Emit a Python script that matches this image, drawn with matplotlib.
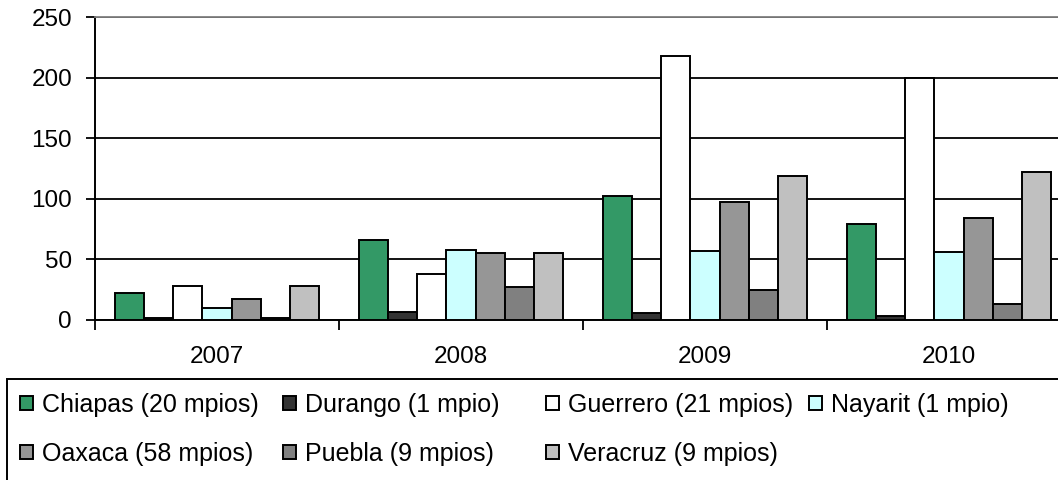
import numpy as np
import matplotlib
matplotlib.use("Agg")
import matplotlib.pyplot as plt
from matplotlib.patches import Patch, Rectangle

plt.rcParams['font.family'] = ['Liberation Sans', 'DejaVu Sans']

years = ['2007', '2008', '2009', '2010']
states = ['Chiapas (20 mpios)', 'Durango (1 mpio)', 'Guerrero (21 mpios)',
          'Nayarit (1 mpio)', 'Oaxaca (58 mpios)', 'Puebla (9 mpios)',
          'Veracruz (9 mpios)']
chiapas = [22, 66, 102, 79]
durango = [2, 7, 6, 3]
guerrero = [28, 38, 218, 200]
nayarit = [10, 58, 57, 56]
oaxaca = [17, 55, 97, 84]
puebla = [2, 27, 25, 13]
veracruz = [28, 55, 119, 122]
series = [chiapas, durango, guerrero, nayarit, oaxaca, puebla, veracruz]
colors = ['#339966', '#333333', '#ffffff', '#ccffff', '#969696', '#808080', '#c0c0c0']

fig = plt.figure(figsize=(10.58, 4.8), dpi=100)
ax = fig.add_axes([95 / 1058, 160 / 480, 976 / 1058, 303 / 480])

x = np.arange(len(years)) + 0.5
w = 0.119
for i, (vals, c) in enumerate(zip(series, colors)):
    ax.bar(x + (i - 3) * w, vals, w, color=c, edgecolor='black', linewidth=1.4,
           label=states[i], zorder=3)

ax.set_xlim(0, 4)
ax.set_ylim(0, 250)
ax.set_yticks([0, 50, 100, 150, 200, 250])
ax.yaxis.grid(True, color='black', linewidth=1.3, zorder=0)
ax.set_xticks([0, 1, 2, 3, 4])
ax.set_xticklabels([])
ax.set_xticks(x, minor=True)
ax.set_xticklabels(years, minor=True)
ax.tick_params(axis='x', which='minor', length=0, pad=19, labelsize=17.5)
ax.tick_params(axis='x', which='major', length=7, width=1.3, direction='out')
ax.tick_params(axis='y', length=6.5, width=1.3, pad=10, labelsize=17.5)
ax.spines['right'].set_visible(False)
ax.spines['top'].set_color('#808080')
ax.spines['top'].set_linewidth(1.3)
ax.spines['left'].set_linewidth(1.4)
ax.spines['bottom'].set_linewidth(1.4)

# legend frame, clipped by the image edge like the reference
fig.patches.append(Rectangle((7 / 1058, -0.1), 1.1, (480 - 379) / 480 + 0.1,
                             transform=fig.transFigure, fill=False,
                             edgecolor='black', linewidth=1.4))

# legend: four equal-width columns (Excel style)
columns = [[0, 4], [1, 5], [2, 6], [3]]
col_x = [20, 283, 546, 809]
for cx, idx in zip(col_x, columns):
    handles = [Patch(facecolor=colors[i], edgecolor='black', linewidth=1.4) for i in idx]
    fig.legend(handles, [states[i] for i in idx], loc='upper left',
               bbox_to_anchor=(cx / 1058, (480 - 393) / 480), frameon=False,
               fontsize=18, handlelength=0.52, handleheight=0.52, handletextpad=0.36,
               labelspacing=1.0, borderaxespad=0, borderpad=0)

fig.savefig('out.png', dpi=100)
